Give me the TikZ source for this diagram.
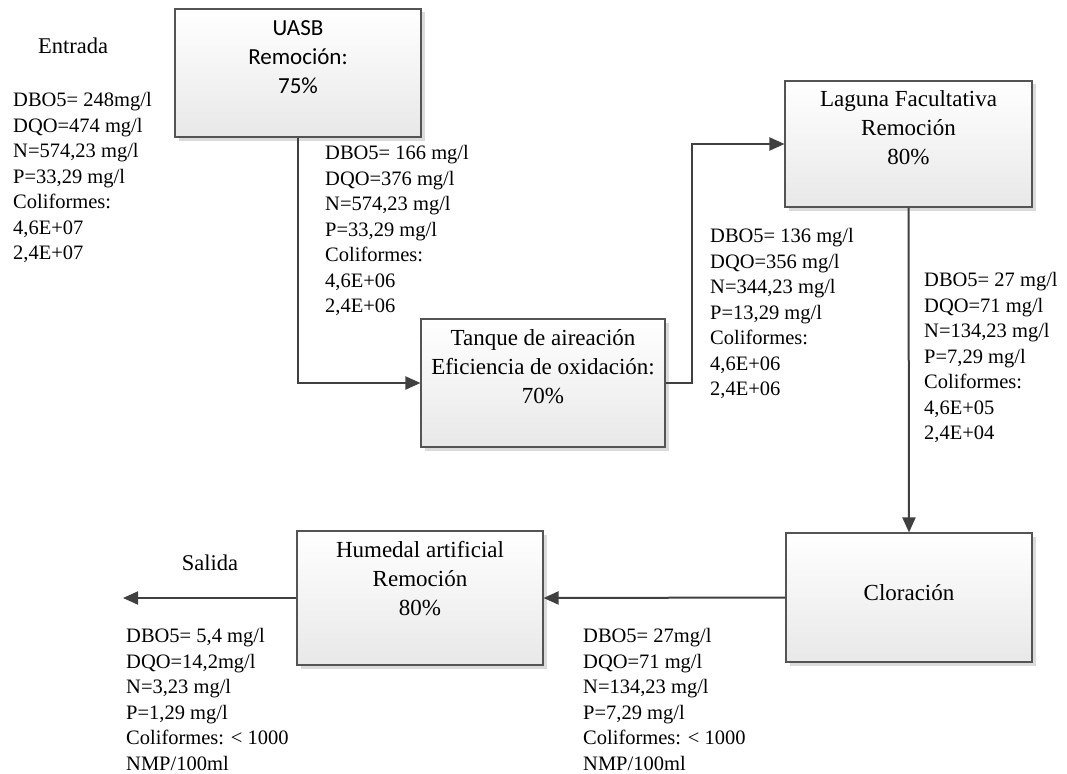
\documentclass[tikz,border=0pt]{standalone}
\usepackage{fontspec}
\setmainfont{Liberation Serif}
\newfontfamily\calibrifont{Carlito}
\usetikzlibrary{arrows.meta,shadows}
\definecolor{flowc}{RGB}{64,64,64}
\definecolor{frame}{RGB}{84,84,84}
\definecolor{shade}{RGB}{232,232,232}

\begin{document}
\begin{tikzpicture}[x=1pt,y=-1pt,
    stage/.style={draw=frame, line width=1.1pt, top color=white, bottom color=shade,
      drop shadow={shadow xshift=3.5pt, shadow yshift=-3.5pt, fill=black!14, opacity=1},
      inner sep=0pt, minimum width=#1},
    stage/.default=246pt,
    stagetext/.style={align=center, inner sep=0pt, font=\fontsize{23}{29}\selectfont},
    data/.style={align=left, anchor=north west, inner sep=0pt, font=\fontsize{20.5}{25.5}\selectfont},
    flow/.style={draw=flowc, line width=2pt, -{Triangle[length=15pt,width=13pt]}}]
  \useasboundingbox (0,0) rectangle (1067,773);

  % process boxes
  \node[stage, minimum height=128pt] (uasb) at (298,73) {};
  \node[stage=244pt, minimum height=128pt] (tanque) at (543,383) {};
  \node[stage=247pt, minimum height=126pt] (laguna) at (908.5,144) {};
  \node[stage, minimum height=129pt] (clora) at (909,597.5) {};
  \node[stage, minimum height=134pt] (humedal) at (420,598) {};

  \node[stagetext, font=\calibrifont\fontsize{23}{29}\selectfont] (uasb-t) at (298,57) {UASB\\Remoción:\\75\%};
  \node[stagetext] (tanque-t) at (543,367) {Tanque de aireación\\Eficiencia de oxidación:\\70\%};
  \node[stagetext] (laguna-t) at (908.5,128) {Laguna Facultativa\\Remoción\\80\%};
  \node[stagetext] (clora-t) at (909,593) {Cloración};
  \node[stagetext] (humedal-t) at (420,579) {Humedal artificial\\Remoción\\80\%};

  % connectors
  \coordinate (salida) at (123,598);
  \draw[flow] (uasb.south) |- (tanque.west);
  \draw[flow] (tanque.east) -- ++(26,0) |- (laguna.west);
  \draw[flow] (laguna.south) -- (clora.north);
  \draw[flow] (clora.west) -- (humedal.east);
  \draw[flow] (humedal.west) -- (salida);

  % labels and water quality
  \node[font=\fontsize{22.5}{27}\selectfont] (entrada) at (73,46) {Entrada};
  \node[font=\fontsize{22.5}{27}\selectfont] (salida-t) at (210,563) {Salida};

  \node[data] (d-in) at (13,92.5) {DBO5= 248mg/l\\DQO=474 mg/l\\N=574,23 mg/l\\P=33,29 mg/l\\Coliformes:\\4,6E+07\\2,4E+07};
  \node[data] (d-uasb) at (325,145.5) {DBO5= 166 mg/l\\DQO=376 mg/l\\N=574,23 mg/l\\P=33,29 mg/l\\Coliformes:\\4,6E+06\\2,4E+06};
  \node[data] (d-tanque) at (710,228.5) {DBO5= 136 mg/l\\DQO=356 mg/l\\N=344,23 mg/l\\P=13,29 mg/l\\Coliformes:\\4,6E+06\\2,4E+06};
  \node[data] (d-laguna) at (924,272.5) {DBO5= 27 mg/l\\DQO=71 mg/l\\N=134,23 mg/l\\P=7,29 mg/l\\Coliformes:\\4,6E+05\\2,4E+04};
  \node[data] (d-clora) at (583,628.5) {DBO5= 27mg/l\\DQO=71 mg/l\\N=134,23 mg/l\\P=7,29 mg/l\\Coliformes: < 1000\\NMP/100ml};
  \node[data] (d-out) at (126,628.5) {DBO5= 5,4 mg/l\\DQO=14,2mg/l\\N=3,23 mg/l\\P=1,29 mg/l\\Coliformes: < 1000\\NMP/100ml};
\end{tikzpicture}
\end{document}
